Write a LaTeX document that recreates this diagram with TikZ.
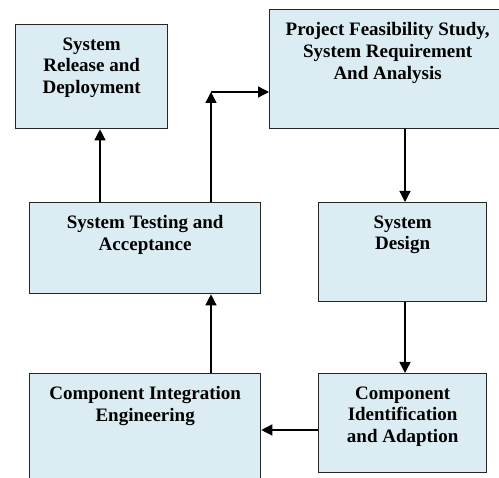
\documentclass[tikz,border=0pt]{standalone}
\usepackage{fontspec}
\setmainfont{Liberation Serif}
\usepackage{xcolor}
\usetikzlibrary{positioning,arrows.meta,calc}
\definecolor{stagebg}{RGB}{219,237,243}

\begin{document}
\begin{tikzpicture}[x=1pt,y=-1pt,line width=1.3pt,
  every node/.style={font=\fontsize{19}{21.7}\selectfont\bfseries},
  stage/.style={draw=black!85,fill=stagebg,anchor=north west,inner sep=0pt},
  txt/.style={anchor=north,align=center,inner sep=0pt,yshift=-13pt},
  >={Triangle[width=11pt,length=11pt]} ]
  \useasboundingbox (0,0) rectangle (499,478);
  \clip (0,0) rectangle (499,478);

  \node[stage,minimum width=152pt,minimum height=104pt,
    label={[txt]north:System\\Release and\\Deployment}] (rel) at (15,24) {};
  \node[stage,minimum width=236pt,minimum height=119pt,
    label={[txt]north:Project Feasibility Study,\\System Requirement\\And Analysis}] (req) at (269,9) {};
  \node[stage,minimum width=231pt,minimum height=91pt,
    label={[txt]north:System Testing and\\Acceptance}] (tst) at (29,202) {};
  \node[stage,minimum width=168pt,minimum height=99pt,
    label={[txt]north:System\\Design}] (dsg) at (318,202) {};
  \node[stage,minimum width=231pt,minimum height=120pt,
    label={[txt]north:Component Integration\\Engineering}] (itg) at (29,373) {};
  \node[stage,minimum width=168pt,minimum height=99pt,
    label={[txt]north:Component\\Identification\\and Adaption}] (idn) at (318,373) {};

  \coordinate (bend) at (211,92);
  \coordinate (c1) at (100,0);
  \coordinate (c2) at (405,0);
  \coordinate (c3) at (0,430);

  \draw[->] (tst.north -| c1) -- (rel.south -| c1);
  \draw[->] (tst.north -| bend) -- (bend);
  \draw[->] (bend) -- (bend -| req.west);
  \draw[->] (req.south -| c2) -- (dsg.north -| c2);
  \draw[->] (dsg.south -| c2) -- (idn.north -| c2);
  \draw[->] (c3 -| idn.west) -- (c3 -| itg.east);
  \draw[->] (itg.north -| bend) -- (tst.south -| bend);
\end{tikzpicture}
\end{document}
